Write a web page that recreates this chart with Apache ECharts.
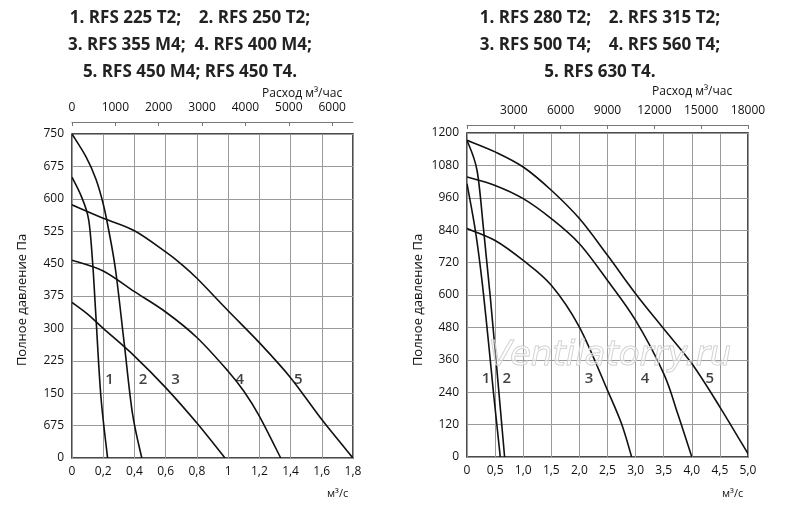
<!DOCTYPE html>
<html><head><meta charset="utf-8">
<script src="https://cdn.jsdelivr.net/npm/echarts@6/dist/echarts.min.js"></script>
<style>html,body{margin:0;padding:0;background:#fff}#c{width:800px;height:512px}</style>
</head><body><div id="c"></div>
<script>
const leftTitle = ['1. RFS 225 T2;    2. RFS 250 T2;', '3. RFS 355 M4;  4. RFS 400 M4;', '5. RFS 450 M4; RFS 450 T4.'];
const rightTitle = ['1. RFS 280 T2;    2. RFS 315 T2;', '3. RFS 500 T4;    4. RFS 560 T4;', '5. RFS 630 T4.'];
const leftYTickLabels = {0:'0',75:'675',150:'150',225:'225',300:'300',375:'375',450:'450',525:'525',600:'600',675:'675',750:'750'};
const L1 = [[0,650],[0.057,608],[0.106,553],[0.132,453],[0.153,329],[0.185,143],[0.228,0]];
const L2 = [[0,750],[0.09,697],[0.153,646],[0.2,588],[0.238,522],[0.281,430],[0.334,267],[0.387,104],[0.447,0]];
const L3 = [[0,360],[0.1,333],[0.2,300],[0.4,236],[0.6,163],[0.8,81],[0.98,0]];
const L4 = [[0,458],[0.2,433],[0.4,385],[0.6,338],[0.8,279],[1.0,201],[1.1,155],[1.2,97],[1.337,0]];
const L5 = [[0,586],[0.2,555],[0.4,526],[0.6,477],[0.7,449],[0.8,416],[1.0,341],[1.2,267],[1.4,186],[1.6,89],[1.8,0]];
const R1 = [[0,1012],[0.148,840],[0.266,654],[0.385,420],[0.473,235],[0.592,0]];
const R2 = [[0,1173],[0.178,1062],[0.296,840],[0.414,593],[0.533,321],[0.669,0]];
const R3 = [[0,846],[0.5,802],[1.0,728],[1.5,636],[2.0,481],[2.5,247],[2.75,123],[2.93,0]];
const R4 = [[0,1037],[0.5,1006],[1.0,957],[1.5,883],[2.0,790],[2.5,654],[3.0,506],[3.5,309],[3.75,160],[4.0,0]];
const R5 = [[0,1173],[0.5,1130],[1.0,1074],[1.5,988],[2.0,883],[2.5,747],[3.0,605],[3.5,475],[4.0,346],[4.5,185],[5.0,12]];
const leftCurveLabels = [['1',0.24,182],['2',0.455,182],['3',0.664,182],['4',1.074,182],['5',1.45,182]];
const rightCurveLabels = [['1',0.34,290],['2',0.71,290],['3',2.17,290],['4',3.17,290],['5',4.32,290]];

const chart = echarts.init(document.getElementById('c'));
const font = 'Open Sans';
// smooth Catmull-Rom curve through the data points, mapped via the axes
const lineS = (d, xi, yi) => ({
  type:'custom', xAxisIndex:xi, yAxisIndex:yi, data:d, z:5, clip:true,
  renderItem:(params, api) => {
    if (params.dataIndex !== 0) return null;
    const p = d.map(pt => api.coord(pt));
    let path = 'M' + p[0][0] + ' ' + p[0][1];
    for (let i = 0; i < p.length - 1; i++) {
      const p0 = p[Math.max(i-1,0)], p1 = p[i], p2 = p[i+1], p3 = p[Math.min(i+2,p.length-1)];
      const c1 = [p1[0] + (p2[0]-p0[0])/6, p1[1] + (p2[1]-p0[1])/6];
      const c2 = [p2[0] - (p3[0]-p1[0])/6, p2[1] - (p3[1]-p1[1])/6];
      path += ' C' + c1[0] + ' ' + c1[1] + ' ' + c2[0] + ' ' + c2[1] + ' ' + p2[0] + ' ' + p2[1];
    }
    return {type:'path', shape:{pathData:path}, style:{fill:null, stroke:'#111', lineWidth:1.6}};
  }
});
const lblS = (d, xi, yi) => ({type:'scatter', xAxisIndex:xi, yAxisIndex:yi, symbolSize:0, data:d.map(a=>({name:a[0], value:[a[1],a[2]]})), label:{show:true, position:'inside', formatter:'{b}', color:'#111', fontSize:15, fontWeight:600, fontFamily:font}, z:6});
const splitLine = {show:true, lineStyle:{color:'#999', width:1}};
const axisTxt = {color:'#111', fontSize:12, fontFamily:font};
const titleG = (lines, cx) => lines.map((t,i)=>({type:'text', x:cx, y:10+i*27, style:{text:t, font:'bold 17px "Open Sans"', fill:'#222', textAlign:'center'}}));
const dec = v => String(Math.round(v*10)/10).replace('.',',');

chart.setOption({
  animation:false,
  grid:[{left:72, top:134, width:281, height:324, show:true, borderColor:'#111', borderWidth:1.5},
        {left:467, top:133, width:281, height:324, show:true, borderColor:'#111', borderWidth:1.5}],
  xAxis:[
    {gridIndex:0, type:'value', min:0, max:1.8, interval:0.2, position:'bottom', axisLine:{show:false}, axisTick:{show:false}, splitLine, axisLabel:{...axisTxt, formatter:dec}},
    {gridIndex:0, type:'value', min:0, max:6480, interval:1000, position:'top', offset:12, axisLine:{show:true, lineStyle:{color:'#777'}}, axisTick:{show:true, length:4, inside:true, lineStyle:{color:'#777'}}, splitLine:{show:false}, axisLabel:{...axisTxt, showMaxLabel:false, formatter:v=>String(v)}},
    {gridIndex:1, type:'value', min:0, max:5, interval:0.5, position:'bottom', axisLine:{show:false}, axisTick:{show:false}, splitLine, axisLabel:{...axisTxt, formatter:v=>v===0?'0':v.toFixed(1).replace('.',',')}},
    {gridIndex:1, type:'value', min:0, max:18000, interval:3000, position:'top', offset:8, axisLine:{show:true, lineStyle:{color:'#777'}}, axisTick:{show:true, length:4, inside:true, lineStyle:{color:'#777'}}, splitLine:{show:false}, axisLabel:{...axisTxt, formatter:v=>v===0?'':String(v)}}
  ],
  yAxis:[
    {gridIndex:0, type:'value', min:0, max:750, interval:75, axisLine:{show:false}, axisTick:{show:false}, splitLine, axisLabel:{...axisTxt, formatter:v=>leftYTickLabels[v]}},
    {gridIndex:1, type:'value', min:0, max:1200, interval:120, axisLine:{show:false}, axisTick:{show:false}, splitLine, axisLabel:{...axisTxt, formatter:v=>String(v)}}
  ],
  series:[lineS(L1,0,0),lineS(L2,0,0),lineS(L3,0,0),lineS(L4,0,0),lineS(L5,0,0),
          lineS(R1,2,1),lineS(R2,2,1),lineS(R3,2,1),lineS(R4,2,1),lineS(R5,2,1),
          lblS(leftCurveLabels,0,0), lblS(rightCurveLabels,2,1)],
  graphic:[
    ...titleG(leftTitle,190), ...titleG(rightTitle,600),
    {type:'text', x:22, y:300, rotation:Math.PI/2, style:{text:'Полное давление Па', font:'13px "Open Sans"', fill:'#111', textAlign:'center', textVerticalAlign:'middle'}},
    {type:'text', x:418, y:300, rotation:Math.PI/2, style:{text:'Полное давление Па', font:'13px "Open Sans"', fill:'#111', textAlign:'center', textVerticalAlign:'middle'}},
    {type:'text', x:262, y:88, style:{text:'Расход м³/час', font:'12px "Open Sans"', fill:'#111'}},
    {type:'text', x:652, y:86, style:{text:'Расход м³/час', font:'12px "Open Sans"', fill:'#111'}},
    {type:'text', x:327, y:488, style:{text:'м³/с', font:'11px "Open Sans"', fill:'#111'}},
    {type:'text', x:722, y:488, style:{text:'м³/с', font:'11px "Open Sans"', fill:'#111'}},
    {type:'text', x:610, y:356, z:10, style:{text:'Ventilatorry.ru', font:'italic 34px "DejaVu Sans"', fill:'rgba(255,255,255,0.4)', stroke:'#c8c8c8', lineWidth:1, textAlign:'center', textVerticalAlign:'middle'}}
  ]
});
</script></body></html>
